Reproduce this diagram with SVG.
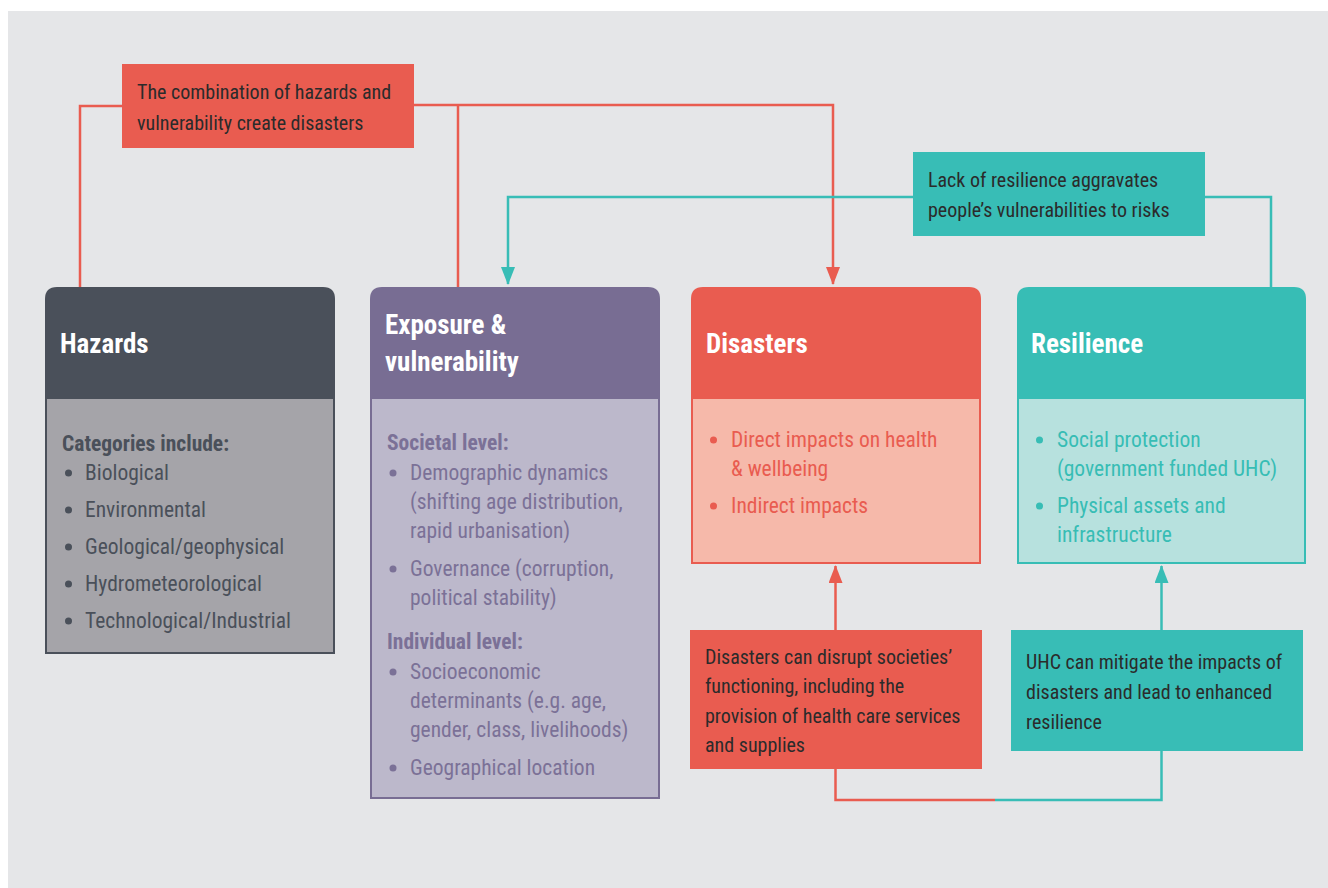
<svg xmlns="http://www.w3.org/2000/svg" width="1328" height="888" viewBox="0 0 1328 888">
<style>
text{font-family:"Liberation Sans Narrow","Roboto Condensed","Liberation Sans",sans-serif}
.t{font-size:27px;font-weight:bold;fill:#fff}
.b{font-size:21.5px}
.h{font-size:21.5px;font-weight:bold}
.lab{font-size:20px;fill:#2b2b2b}
.red{stroke:#e95c50;stroke-width:2.5;fill:none}
.teal{stroke:#38bdb6;stroke-width:2.5;fill:none}
</style>
<defs>
<marker id="ar" markerWidth="18" markerHeight="14" refX="17" refY="7" orient="auto" markerUnits="userSpaceOnUse" viewBox="0 0 18 14"><path d="M0,0 L18,7 L0,14 Z" fill="#e95c50"/></marker>
<marker id="at" markerWidth="18" markerHeight="14" refX="17" refY="7" orient="auto" markerUnits="userSpaceOnUse" viewBox="0 0 18 14"><path d="M0,0 L18,7 L0,14 Z" fill="#38bdb6"/></marker>
</defs>
<rect x="0" y="0" width="1328" height="888" fill="#fff"/>
<rect x="8" y="11" width="1320" height="877" fill="#e5e6e8"/>
<g id="connectors">
<polyline class="red" points="80,287 80,106 122,106"/>
<polyline class="red" points="414,105 833,105 833,284" marker-end="url(#ar)"/>
<line class="red" x1="458" y1="105" x2="458" y2="287"/>
<polyline class="teal" points="1271,287 1271,197 1205,197"/>
<polyline class="teal" points="913,197 508,197 508,284" marker-end="url(#at)"/>
<line class="red" x1="835.5" y1="630" x2="835.5" y2="566" marker-end="url(#ar)"/>
<line class="teal" x1="1161.5" y1="630" x2="1161.5" y2="566" marker-end="url(#at)"/>
<polyline class="red" points="835.5,769 835.5,800 995,800"/>
<polyline class="teal" points="995,800 1161.5,800 1161.5,751"/>
</g>
<g id="label-combination">
<rect x="122" y="64" width="292" height="84" fill="#e95c50"/>
<text class="lab" x="137" y="99">The combination of hazards and</text>
<text class="lab" x="137" y="130">vulnerability create disasters</text>
</g>
<g id="label-lack">
<rect x="913" y="152" width="292" height="84" fill="#38bdb6"/>
<text class="lab" x="928" y="187">Lack of resilience aggravates</text>
<text class="lab" x="928" y="217">people’s vulnerabilities to risks</text>
</g>
<g id="hazards">
<path d="M45,399 V299 Q45,287 57,287 H323 Q335,287 335,299 V399 Z" fill="#4a505a"/>
<rect x="46" y="398" width="288" height="255" fill="#a5a4a9" stroke="#4a505a" stroke-width="2"/>
<text class="t" x="60" y="353">Hazards</text>
<g fill="#4a505a">
<text class="h" x="62" y="451">Categories include:</text>
<circle cx="68.5" cy="473" r="3.5"/><text class="b" x="85" y="480">Biological</text>
<circle cx="68.5" cy="510" r="3.5"/><text class="b" x="85" y="517">Environmental</text>
<circle cx="68.5" cy="547" r="3.5"/><text class="b" x="85" y="554">Geological/geophysical</text>
<circle cx="68.5" cy="584" r="3.5"/><text class="b" x="85" y="591">Hydrometeorological</text>
<circle cx="68.5" cy="621" r="3.5"/><text class="b" x="85" y="628">Technological/Industrial</text>
</g>
</g>
<g id="exposure">
<path d="M370,399 V299 Q370,287 382,287 H648 Q660,287 660,299 V399 Z" fill="#786d93"/>
<rect x="371" y="398" width="288" height="400" fill="#bcb8cb" stroke="#786d93" stroke-width="2"/>
<text class="t" x="385" y="334">Exposure &amp;</text>
<text class="t" x="385" y="371">vulnerability</text>
<g fill="#7b7197">
<text class="h" x="387" y="450">Societal level:</text>
<circle cx="393" cy="473" r="3.5"/><text class="b" x="410" y="480">Demographic dynamics</text>
<text class="b" x="410" y="509">(shifting age distribution,</text>
<text class="b" x="410" y="538">rapid urbanisation)</text>
<circle cx="393" cy="569" r="3.5"/><text class="b" x="410" y="576">Governance (corruption,</text>
<text class="b" x="410" y="605">political stability)</text>
<text class="h" x="387" y="649">Individual level:</text>
<circle cx="393" cy="672" r="3.5"/><text class="b" x="410" y="679">Socioeconomic</text>
<text class="b" x="410" y="708">determinants (e.g. age,</text>
<text class="b" x="410" y="737">gender, class, livelihoods)</text>
<circle cx="393" cy="768" r="3.5"/><text class="b" x="410" y="775">Geographical location</text>
</g>
</g>
<g id="disasters">
<path d="M691,399 V299 Q691,287 703,287 H969 Q981,287 981,299 V399 Z" fill="#e95c50"/>
<rect x="692" y="398" width="288" height="165" fill="#f6b9aa" stroke="#e95c50" stroke-width="2"/>
<text class="t" x="706" y="353">Disasters</text>
<g fill="#e95c50">
<circle cx="713.5" cy="440" r="3.5"/><text class="b" x="731" y="447">Direct impacts on health</text>
<text class="b" x="731" y="476">&amp; wellbeing</text>
<circle cx="713.5" cy="506" r="3.5"/><text class="b" x="731" y="513">Indirect impacts</text>
</g>
</g>
<g id="resilience">
<path d="M1017,399 V299 Q1017,287 1029,287 H1294 Q1306,287 1306,299 V399 Z" fill="#37bdb5"/>
<rect x="1018" y="398" width="287" height="165" fill="#b7e1de" stroke="#37bdb5" stroke-width="2"/>
<text class="t" x="1031" y="353">Resilience</text>
<g fill="#37bdb5">
<circle cx="1039.5" cy="440" r="3.5"/><text class="b" x="1057" y="447">Social protection</text>
<text class="b" x="1057" y="476">(government funded UHC)</text>
<circle cx="1039.5" cy="506" r="3.5"/><text class="b" x="1057" y="513">Physical assets and</text>
<text class="b" x="1057" y="542">infrastructure</text>
</g>
</g>
<g id="label-disrupt">
<rect x="690" y="630" width="292" height="139" fill="#e95c50"/>
<text class="lab" x="705" y="664">Disasters can disrupt societies’</text>
<text class="lab" x="705" y="693">functioning, including the</text>
<text class="lab" x="705" y="723">provision of health care services</text>
<text class="lab" x="705" y="752">and supplies</text>
</g>
<g id="label-uhc">
<rect x="1011" y="630" width="292" height="121" fill="#38bdb6"/>
<text class="lab" x="1026" y="669">UHC can mitigate the impacts of</text>
<text class="lab" x="1026" y="699">disasters and lead to enhanced</text>
<text class="lab" x="1026" y="729">resilience</text>
</g>
</svg>
